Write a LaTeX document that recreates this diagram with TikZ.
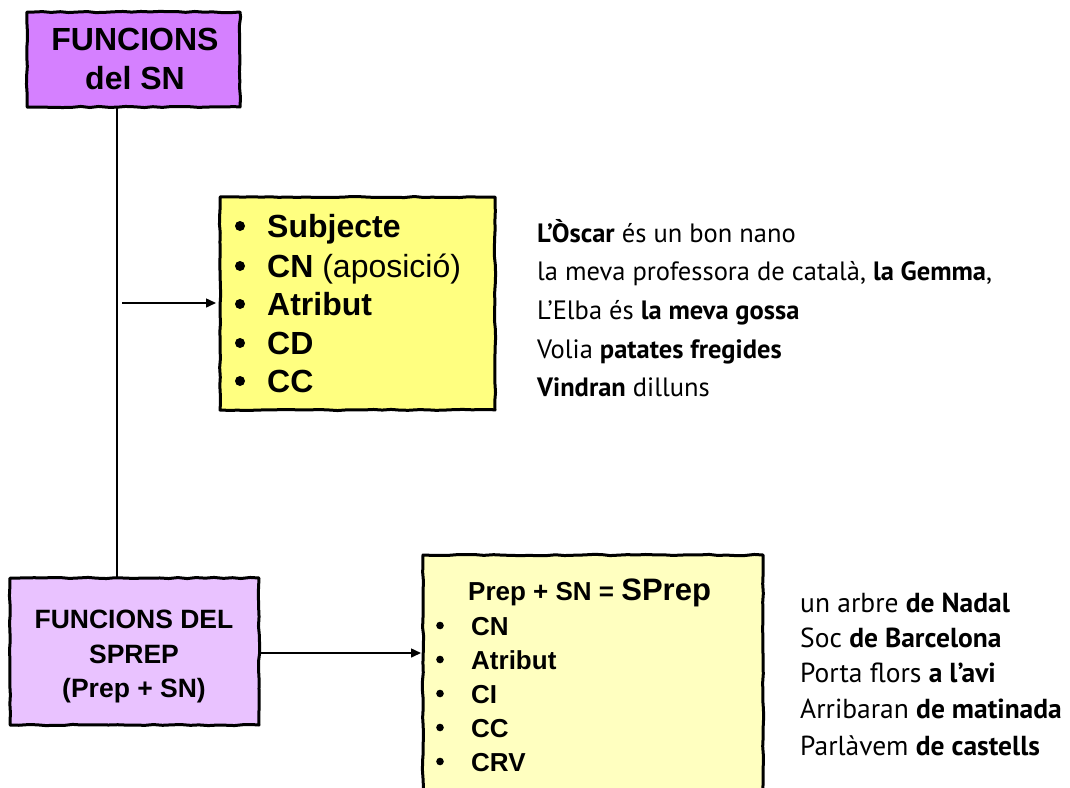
\documentclass[tikz,border=0pt]{standalone}
\usepackage{fontspec}
\setmainfont{Liberation Sans}
\newfontfamily\exfont{PT Sans}
\usetikzlibrary{decorations.pathmorphing,arrows.meta}
\definecolor{violetA}{HTML}{D580FF}
\definecolor{violetB}{HTML}{E9C2FF}
\definecolor{yellowA}{HTML}{FFFF80}
\definecolor{yellowB}{HTML}{FFFFC0}
\tikzset{
  sketch/.style={draw=black, line width=3pt, line join=round,
    decorate, decoration={random steps, segment length=9pt, amplitude=0.6pt}},
  conn/.style={draw=black, line width=1.5pt},
  arr/.style={conn, -{Triangle[length=10pt,width=9pt]}},
  btxt/.style={anchor=base, inner sep=0pt},
  ltxt/.style={anchor=base west, inner sep=0pt},
  bul/.style={fill=black, draw=none},
}
\begin{document}
\begin{tikzpicture}[x=1pt,y=-1pt]
\useasboundingbox (0,0) rectangle (1070,787);
% boxes
\path[sketch, fill=violetA] (27,12) rectangle (240,107);
\path[sketch, fill=yellowA] (220,197) rectangle (495,410);
\path[sketch, fill=violetB] (10,578) rectangle (259,725);
\path[sketch, fill=yellowB] (423,555) rectangle (763,800);
% named anchors
\coordinate (top) at (117,107);
\coordinate (bot) at (117,578);
\coordinate (a1s) at (122,303);
\coordinate (a1e) at (216,303);
\coordinate (a2s) at (260,653);
\coordinate (a2e) at (421,653);
\draw[conn] (top) -- (bot);
\draw[arr] (a1s) -- (a1e);
\draw[arr] (a2s) -- (a2e);
% top box text
\begin{scope}[every node/.style={btxt, font=\bfseries\fontsize{32}{36}\selectfont}]
\node (t1a) at (135,50) {FUNCIONS};
\node (t1b) at (135,89) {del SN};
\end{scope}
% bottom box text
\begin{scope}[every node/.style={btxt, font=\bfseries\fontsize{26.5}{30}\selectfont}]
\node (t2a) at (134,628) {FUNCIONS DEL};
\node (t2b) at (134,663) {SPREP};
\node (t2c) at (134,697) {(Prep + SN)};
\end{scope}
% yellow box 1
\foreach \y/\t [count=\i] in {237/{\textbf{Subjecte}}, 277/{\textbf{CN} (aposició)}, 315/{\textbf{Atribut}}, 354/{\textbf{CD}}, 392/{\textbf{CC}}}{
  \fill[bul] (240,\y-11) circle (5pt);
  \node[ltxt, font=\fontsize{32}{36}\selectfont] (y1\i) at (267,\y) {\t};
}
% yellow box 2
\node[ltxt, font=\bfseries\fontsize{26}{30}\selectfont] (h2) at (468,600) {Prep + SN = {\fontsize{31}{36}\selectfont SPrep}};
\foreach \y/\t [count=\i] in {635/CN, 669/Atribut, 703/CI, 737/CC, 771/CRV}{
  \fill[bul] (440,\y-9.5) circle (3.8pt);
  \node[ltxt, font=\bfseries\fontsize{26}{30}\selectfont] (y2\i) at (471,\y) {\t};
}
% examples
\begin{scope}[every node/.style={ltxt, font=\exfont\fontsize{26.5}{30}\selectfont}]
\node (e11) at (537,242) {\textbf{L’Òscar} és un bon nano};
\node (e12) at (537,280) {la meva professora de català, \textbf{la Gemma},};
\node (e13) at (537,319) {L’Elba és \textbf{la meva gossa}};
\node (e14) at (537,358) {Volia \textbf{patates fregides}};
\node (e15) at (537,396) {\textbf{Vindran} dilluns};
\end{scope}
\begin{scope}[every node/.style={ltxt, font=\exfont\fontsize{27.5}{30}\selectfont}]
\node (e21) at (800,612) {un arbre \textbf{de Nadal}};
\node (e22) at (800,647) {Soc \textbf{de Barcelona}};
\node (e23) at (800,682) {Porta flors \textbf{a l’avi}};
\node (e24) at (800,718) {Arribaran \textbf{de matinada}};
\node (e25) at (800,755) {Parlàvem \textbf{de castells}};
\end{scope}
\end{tikzpicture}
\end{document}
